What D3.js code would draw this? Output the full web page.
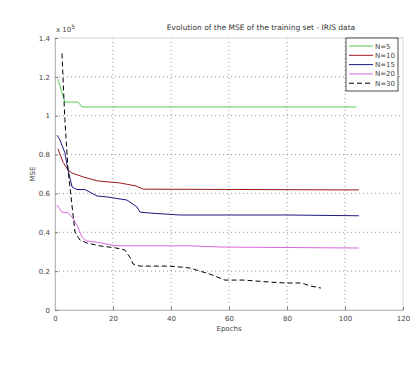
<!DOCTYPE html>
<html>
<head>
<meta charset="utf-8">
<script src="https://cdn.jsdelivr.net/npm/d3@7"></script>
<style>
  body { margin: 0; background: #fff; }
  text { font-family: "DejaVu Sans", sans-serif; }
</style>
</head>
<body>
<script>
const width = 420;
const height = 368;
const margin = { top: 38, right: 17, bottom: 58, left: 55 };

// MSE values in units of 1e5, epochs on x
const seriesNames = ["N=5", "N=10", "N=15", "N=20", "N=30"];
const seriesColors = ["#55cc55", "#9a1a1a", "#1a1a80", "#dd66dd", "#000000"];

const epochs5 = [1, 3.4, 8, 9.3, 104];
const mse5 = [1.19, 1.07, 1.07, 1.045, 1.045];

const epochs10 = [1, 2.8, 4.5, 5.9, 9.7, 14.8, 22.4, 28, 30.4, 104.8];
const mse10 = [0.83, 0.76, 0.72, 0.705, 0.685, 0.664, 0.654, 0.638, 0.622, 0.618];

const epochs15 = [0.7, 1.7, 3.4, 4.5, 5.9, 7.6, 10.3, 12, 14.5, 17.9, 24.8, 28.3, 29.3, 32.8, 43, 80, 104.8];
const mse15 = [0.9, 0.875, 0.81, 0.72, 0.633, 0.62, 0.62, 0.607, 0.587, 0.582, 0.566, 0.53, 0.504, 0.499, 0.489, 0.489, 0.485];

const epochs20 = [0.7, 2.4, 4.5, 6.2, 8, 9.3, 11, 13.8, 21.4, 46.6, 57.6, 104.8];
const mse20 = [0.54, 0.504, 0.5, 0.473, 0.422, 0.376, 0.355, 0.35, 0.33, 0.33, 0.324, 0.319];

const epochs30 = [2.4, 3.4, 4.5, 6.9, 8.6, 11, 15.5, 20.7, 24, 25.9, 26.9, 29.3, 39.7, 46.6, 50, 53.4, 58.6, 65, 74, 79.3, 85, 88, 91.7];
const mse30 = [1.32, 0.98, 0.72, 0.4, 0.36, 0.345, 0.33, 0.32, 0.31, 0.27, 0.237, 0.226, 0.226, 0.216, 0.2, 0.185, 0.154, 0.154, 0.144, 0.139, 0.139, 0.124, 0.113];

const xTicks = [0, 20, 40, 60, 80, 100, 120];
const yTicks = [0, 0.2, 0.4, 0.6, 0.8, 1, 1.2, 1.4];

const series = [
  { name: seriesNames[0], color: seriesColors[0], x: epochs5, y: mse5 },
  { name: seriesNames[1], color: seriesColors[1], x: epochs10, y: mse10 },
  { name: seriesNames[2], color: seriesColors[2], x: epochs15, y: mse15 },
  { name: seriesNames[3], color: seriesColors[3], x: epochs20, y: mse20 },
  { name: seriesNames[4], color: seriesColors[4], x: epochs30, y: mse30, dash: "5,3" }
];

const xScale = d3.scaleLinear().domain([0, 120]).range([margin.left, width - margin.right]);
const yScale = d3.scaleLinear().domain([0, 1.4]).range([height - margin.bottom, margin.top]);

const svg = d3.select("body")
  .append("svg")
  .attr("width", width)
  .attr("height", height);

// grid
svg.append("g")
  .selectAll("line")
  .data(xTicks.slice(1, -1))
  .join("line")
  .attr("x1", d => xScale(d))
  .attr("x2", d => xScale(d))
  .attr("y1", margin.top)
  .attr("y2", height - margin.bottom)
  .attr("stroke", "#555")
  .attr("stroke-opacity", 0.6)
  .attr("stroke-dasharray", "1,3");

svg.append("g")
  .selectAll("line")
  .data(yTicks.slice(1, -1))
  .join("line")
  .attr("x1", margin.left)
  .attr("x2", width - margin.right)
  .attr("y1", d => yScale(d))
  .attr("y2", d => yScale(d))
  .attr("stroke", "#555")
  .attr("stroke-opacity", 0.6)
  .attr("stroke-dasharray", "1,3");

// axes box
svg.append("rect")
  .attr("x", margin.left)
  .attr("y", margin.top)
  .attr("width", width - margin.left - margin.right)
  .attr("height", height - margin.top - margin.bottom)
  .attr("fill", "none")
  .attr("stroke", "#ccc")
  .attr("stroke-width", 0.8);

const xAxis = d3.axisBottom(xScale).tickValues(xTicks).tickSize(-3).tickPadding(6);
const yAxis = d3.axisLeft(yScale).tickValues(yTicks).tickSize(-3).tickPadding(5)
  .tickFormat(d => d3.format("~g")(d));

svg.append("g")
  .attr("transform", `translate(0, ${height - margin.bottom})`)
  .call(xAxis)
  .call(g => g.select(".domain").attr("stroke", "#bbb"))
  .call(g => g.selectAll(".tick line").attr("stroke", "#777"))
  .call(g => g.selectAll("text").attr("font-size", 7).attr("fill", "#444"));

svg.append("g")
  .attr("transform", `translate(${margin.left}, 0)`)
  .call(yAxis)
  .call(g => g.select(".domain").attr("stroke", "#bbb"))
  .call(g => g.selectAll(".tick line").attr("stroke", "#777"))
  .call(g => g.selectAll("text").attr("font-size", 7).attr("fill", "#444"));

// exponent label
svg.append("text")
  .attr("x", margin.left + 1)
  .attr("y", 32)
  .attr("font-size", 7)
  .attr("fill", "#444")
  .html("x 10<tspan dy='-3' font-size='6'>5</tspan>");

// lines
const line = d3.line()
  .x(d => xScale(d[0]))
  .y(d => yScale(d[1]));

svg.append("g")
  .selectAll("path")
  .data(series)
  .join("path")
  .attr("d", s => line(s.x.map((v, i) => [v, s.y[i]])))
  .attr("fill", "none")
  .attr("stroke", s => s.color)
  .attr("stroke-width", 1)
  .attr("stroke-dasharray", s => s.dash || null);

// title and labels
svg.append("text")
  .attr("x", 261)
  .attr("y", 30)
  .attr("text-anchor", "middle")
  .attr("font-size", 7.5)
  .attr("fill", "#333")
  .text("Evolution of the MSE of the training set - IRIS data");

svg.append("text")
  .attr("x", xScale(60))
  .attr("y", 331)
  .attr("text-anchor", "middle")
  .attr("font-size", 7)
  .attr("fill", "#444")
  .text("Epochs");

svg.append("text")
  .attr("transform", `translate(35, ${yScale(0.7)}) rotate(-90)`)
  .attr("text-anchor", "middle")
  .attr("font-size", 7)
  .attr("fill", "#444")
  .text("MSE");

// legend
const legend = svg.append("g").attr("transform", "translate(346, 38)");
legend.append("rect")
  .attr("width", 52)
  .attr("height", 53)
  .attr("fill", "#fff")
  .attr("stroke", "#222")
  .attr("stroke-width", 0.8);

const item = legend.selectAll("g")
  .data(series)
  .join("g")
  .attr("transform", (d, i) => `translate(0, ${8 + i * 9.3})`);

item.append("line")
  .attr("x1", 3)
  .attr("x2", 27)
  .attr("stroke", d => d.color)
  .attr("stroke-width", 1)
  .attr("stroke-dasharray", d => d.dash || null);

item.append("text")
  .attr("x", 29)
  .attr("y", 2.5)
  .attr("font-size", 7)
  .attr("fill", "#444")
  .text(d => d.name);
</script>
</body>
</html>
